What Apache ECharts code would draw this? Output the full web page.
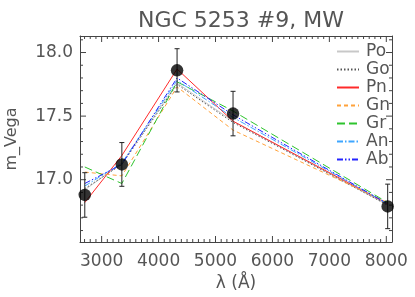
<!DOCTYPE html>
<html><head><meta charset="utf-8">
<script src="https://cdn.jsdelivr.net/npm/echarts@6/dist/echarts.min.js"></script>
<style>html,body{margin:0;padding:0;background:#fff}#c{width:415px;height:297px}</style>
</head><body><div id="c"></div>
<script>
const wavelengths = [2704, 3355, 4325, 5308, 8024];
const obsMag = [16.88, 17.12, 17.86, 17.52, 16.79];
const obsErr = [0.175, 0.172, 0.17, 0.175, 0.175];
const seriesNames = ['Po', 'Go', 'Pn', 'Gn', 'Gr', 'An', 'Ab'];
const modelPo = [16.92, 17.13, 17.76, 17.46, 16.80];
const modelGo = [16.93, 17.12, 17.75, 17.45, 16.80];
const modelPn = [16.82, 17.19, 17.87, 17.46, 16.81];
const modelGn = [17.06, 17.03, 17.73, 17.39, 16.82];
const modelGr = [17.10, 16.97, 17.77, 17.54, 16.82];
const modelAn = [16.95, 17.13, 17.78, 17.49, 16.81];
const modelAb = [16.97, 17.12, 17.80, 17.51, 16.81];
const xMajorTicks = [3000, 4000, 5000, 6000, 7000, 8000];
const yMajorTicks = [17.0, 17.5, 18.0];
const xMinorTicks = [];
for (let v = 2700; v <= 8000; v += 100) xMinorTicks.push(v);
const yMinorTicks = [];
for (let v = 166; v <= 181; v += 1) yMinorTicks.push(v / 10);

const models = [modelPo, modelGo, modelPn, modelGn, modelGr, modelAn, modelAb];
const styles = [
  {color: '#c8c8c8', type: 'solid'},
  {color: '#555555', type: [1.5, 2]},
  {color: '#ff2a2a', type: 'solid'},
  {color: '#ffa23a', type: [4, 3]},
  {color: '#2ec42e', type: [8, 4]},
  {color: '#3ea6ff', type: [6, 2, 1.5, 2]},
  {color: '#2424ff', type: [6, 2, 1.5, 2, 1.5, 2]}
];
const XMIN = 2620, XMAX = 8100, YMIN = 16.51, YMAX = 18.13;
const axisCol = '#444';
const font = 'DejaVu Sans';
const textCol = '#555';

function xAxisDef(pos, show) {
  return {type: 'value', position: pos, min: XMIN, max: XMAX,
    axisLine: {show: true, lineStyle: {color: axisCol}},
    axisTick: {show: false},
    axisLabel: {show: show, customValues: xMajorTicks, formatter: v => String(v), fontSize: 17, color: textCol, fontFamily: font, margin: 11},
    splitLine: {show: false}};
}
function yAxisDef(pos, show) {
  return {type: 'value', position: pos, min: YMIN, max: YMAX,
    axisLine: {show: true, lineStyle: {color: axisCol}},
    axisTick: {show: false},
    axisLabel: {show: show, customValues: yMajorTicks, formatter: v => v.toFixed(1), fontSize: 17, color: textCol, fontFamily: font, margin: 7},
    splitLine: {show: false}};
}
const xAxes = [xAxisDef('bottom', true), xAxisDef('top', false)];
xAxes[0].name = 'λ (Å)'; xAxes[0].nameLocation = 'middle'; xAxes[0].nameGap = 33;
xAxes[0].nameTextStyle = {fontSize: 17, color: textCol, fontFamily: font};
const yAxes = [yAxisDef('left', true), yAxisDef('right', false)];
yAxes[0].name = 'm_Vega'; yAxes[0].nameLocation = 'middle'; yAxes[0].nameGap = 60;
yAxes[0].nameTextStyle = {fontSize: 16, color: textCol, fontFamily: font};

// axis tick marks, placed through the axes' own scales
function tickSeries(values, isX, len) {
  return {
    type: 'custom', silent: true, animation: false, z: 1,
    data: values.map(v => isX ? [v, YMIN] : [XMIN, v]),
    renderItem: function (params, api) {
      const st = {stroke: axisCol, lineWidth: 1};
      if (isX) {
        const v = api.value(0);
        const a = api.coord([v, YMIN]), b = api.coord([v, YMAX]);
        return {type: 'group', children: [
          {type: 'line', shape: {x1: a[0], y1: a[1], x2: a[0], y2: a[1] - len}, style: st},
          {type: 'line', shape: {x1: b[0], y1: b[1], x2: b[0], y2: b[1] + len}, style: st}
        ]};
      }
      const v = api.value(1);
      const a = api.coord([XMIN, v]), b = api.coord([XMAX, v]);
      return {type: 'group', children: [
        {type: 'line', shape: {x1: a[0], y1: a[1], x2: a[0] + len, y2: a[1]}, style: st},
        {type: 'line', shape: {x1: b[0], y1: b[1], x2: b[0] - len, y2: b[1]}, style: st}
      ]};
    }
  };
}

const series = models.map((m, i) => ({
  name: seriesNames[i], type: 'line', symbol: 'none', silent: true, animation: false,
  data: wavelengths.map((w, k) => [w, m[k]]),
  lineStyle: {color: styles[i].color, type: styles[i].type, width: 1},
  itemStyle: {color: styles[i].color}, z: 2
}));
series.push(tickSeries(xMajorTicks, true, 6));
series.push(tickSeries(xMinorTicks.filter(v => v % 1000 !== 0), true, 3));
series.push(tickSeries(yMajorTicks, false, 6));
series.push(tickSeries(yMinorTicks.filter(v => yMajorTicks.indexOf(v) < 0), false, 3));
series.push({
  type: 'custom', animation: false, z: 5,
  data: wavelengths.map((w, k) => [w, obsMag[k] - obsErr[k], obsMag[k] + obsErr[k]]),
  renderItem: function (params, api) {
    const a = api.coord([api.value(0), api.value(1)]);
    const b = api.coord([api.value(0), api.value(2)]);
    const h = 2.5;
    const st = {stroke: '#222', lineWidth: 1};
    return {type: 'group', children: [
      {type: 'line', shape: {x1: a[0], y1: a[1], x2: b[0], y2: b[1]}, style: st},
      {type: 'line', shape: {x1: a[0] - h, y1: a[1], x2: a[0] + h, y2: a[1]}, style: st},
      {type: 'line', shape: {x1: b[0] - h, y1: b[1], x2: b[0] + h, y2: b[1]}, style: st}
    ]};
  }
});
series.push({
  type: 'scatter', animation: false, z: 6, symbol: 'circle', symbolSize: 12.5,
  data: wavelengths.map((w, k) => [w, obsMag[k]]), itemStyle: {color: '#000'}
});

const chart = echarts.init(document.getElementById('c'), null, {renderer: 'canvas'});
chart.setOption({
  animation: false,
  backgroundColor: '#fff',
  title: {text: 'NGC 5253 #9, MW', left: 236, textAlign: 'center', top: 5,
    textStyle: {fontSize: 22, color: textCol, fontFamily: font, fontWeight: 'normal'}},
  grid: {left: 80, right: 23, top: 36, bottom: 55, containLabel: false, outerBoundsMode: 'none'},
  legend: {data: seriesNames, orient: 'vertical', left: 331, top: 38,
    itemWidth: 22, itemHeight: 14, itemGap: 1,
    itemStyle: {opacity: 0},
    textStyle: {fontSize: 17, color: textCol, fontFamily: font, padding: [0, 0, 0, 2]},
    selectedMode: false},
  xAxis: xAxes,
  yAxis: yAxes,
  series: series
});
</script></body></html>
